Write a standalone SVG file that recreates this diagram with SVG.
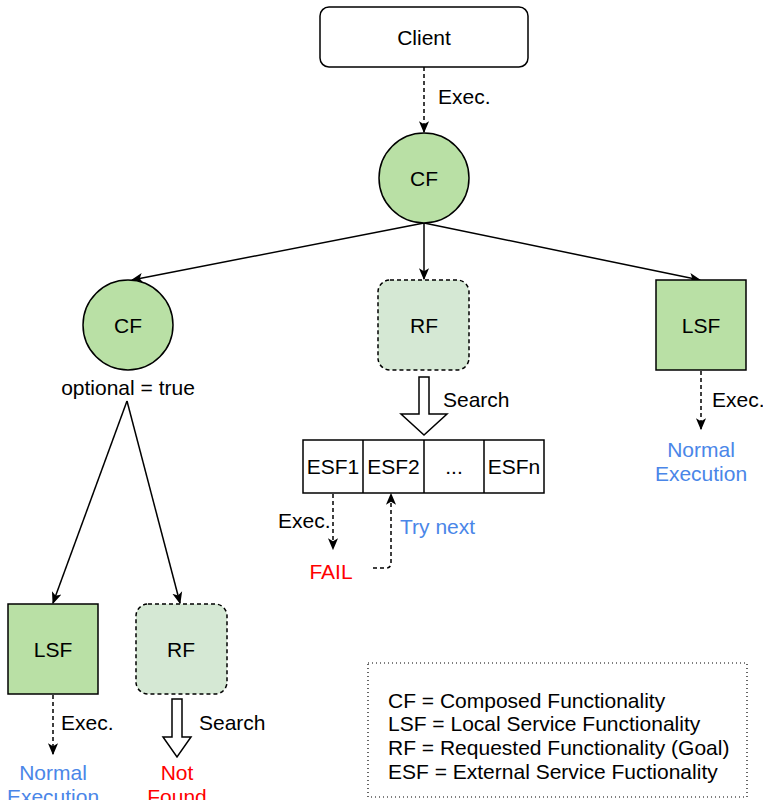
<svg xmlns="http://www.w3.org/2000/svg" width="763" height="800" viewBox="0 0 763 800">
  <defs>
    <marker id="arrow" viewBox="0 0 10 10" refX="9" refY="5" markerWidth="12" markerHeight="12" markerUnits="userSpaceOnUse" orient="auto">
      <path d="M0,0.8 L10,5 L0,9.2 L2.5,5 Z" fill="#000"/>
    </marker>
    <style>
      text { font-family: "Liberation Sans", Arial, sans-serif; font-size: 21px; fill: #000; }
      .c { text-anchor: middle; }
      .blue { fill: #4a86e8; }
      .red { fill: #ff0000; }
      .green { fill: #b9e0a5; stroke: #000; stroke-width: 1.5; }
      .goal { fill: #d5e8d4; stroke: #000; stroke-width: 1.5; stroke-dasharray: 4 3; }
      .plain { fill: #fff; stroke: #000; stroke-width: 1.5; }
      .edge { fill: none; stroke: #000; stroke-width: 1.5; }
      .dash { fill: none; stroke: #000; stroke-width: 1.5; stroke-dasharray: 4 3; }
      .block { fill: #fff; stroke: #000; stroke-width: 1.5; }
    </style>
  </defs>

  <!-- connectors -->
  <g id="connectors">
    <path class="dash" d="M424,67 V132" marker-end="url(#arrow)"/>
    <path class="edge" d="M424,223 L132,280" marker-end="url(#arrow)"/>
    <path class="edge" d="M424,223 V279" marker-end="url(#arrow)"/>
    <path class="edge" d="M424,223 L700,280" marker-end="url(#arrow)"/>
    <path class="edge" d="M127,401 L53,603" marker-end="url(#arrow)"/>
    <path class="edge" d="M127,401 L180,603" marker-end="url(#arrow)"/>
    <path class="dash" d="M701,371 V429" marker-end="url(#arrow)"/>
    <path class="dash" d="M333,494 V549" marker-end="url(#arrow)"/>
    <path class="dash" d="M373,568 H386 Q391,568 391,563 V494" marker-end="url(#arrow)"/>
    <path class="dash" d="M53,695 V754" marker-end="url(#arrow)"/>
    <!-- hollow search arrows -->
    <path class="block" d="M419,377 H429 V414 H447 L424,435 L401,414 H419 Z"/>
    <path class="block" d="M172,699 H182 V737 H191 L177,757 L163,737 H172 Z"/>
  </g>

  <!-- edge labels -->
  <text x="438" y="104">Exec.</text>
  <text x="712" y="407">Exec.</text>
  <text x="278" y="528">Exec.</text>
  <text x="61" y="730">Exec.</text>
  <text x="443" y="407">Search</text>
  <text x="199" y="730">Search</text>
  <text x="400" y="534" class="blue">Try next</text>

  <g id="client">
    <rect class="plain" x="320" y="7" width="208" height="60" rx="9"/>
    <text class="c" x="424" y="45">Client</text>
  </g>

  <g id="cf-root">
    <circle class="green" cx="424" cy="178" r="45"/>
    <text class="c" x="424" y="186">CF</text>
  </g>

  <g id="cf-optional">
    <circle class="green" cx="128" cy="325" r="45"/>
    <text class="c" x="128" y="333">CF</text>
    <text class="c" x="128" y="395">optional = true</text>
  </g>

  <g id="rf-main">
    <rect class="goal" x="378" y="280" width="91" height="90" rx="12"/>
    <text class="c" x="424" y="333">RF</text>
  </g>

  <g id="lsf-right">
    <rect class="green" x="656" y="280" width="90" height="90"/>
    <text class="c" x="701" y="333">LSF</text>
    <text class="c blue" x="701" y="457">Normal</text>
    <text class="c blue" x="701" y="481">Execution</text>
  </g>

  <g id="esf-list">
    <rect class="plain" x="303" y="440" width="241" height="53"/>
    <path class="edge" d="M363,440 V493 M424,440 V493 M484,440 V493"/>
    <text class="c" x="333" y="474">ESF1</text>
    <text class="c" x="393.5" y="474">ESF2</text>
    <text class="c" x="454" y="474">...</text>
    <text class="c" x="514" y="474">ESFn</text>
  </g>

  <g id="fail">
    <text class="c red" x="331" y="579">FAIL</text>
  </g>

  <g id="lsf-left">
    <rect class="green" x="8" y="604" width="90" height="90"/>
    <text class="c" x="53" y="657">LSF</text>
    <text class="c blue" x="53" y="780">Normal</text>
    <text class="c blue" x="53" y="804">Execution</text>
  </g>

  <g id="rf-left">
    <rect class="goal" x="136" y="604" width="91" height="90" rx="12"/>
    <text class="c" x="181" y="657">RF</text>
    <text class="c red" x="177" y="780">Not</text>
    <text class="c red" x="177" y="804">Found</text>
  </g>

  <g id="legend">
    <rect x="368" y="663" width="379" height="134" fill="none" stroke="#000" stroke-width="1.2" stroke-dasharray="1 3"/>
    <text x="388" y="708">CF = Composed Functionality</text>
    <text x="388" y="731">LSF = Local Service Functionality</text>
    <text x="388" y="755">RF = Requested Functionality (Goal)</text>
    <text x="388" y="779">ESF = External Service Fuctionality</text>
  </g>
</svg>
